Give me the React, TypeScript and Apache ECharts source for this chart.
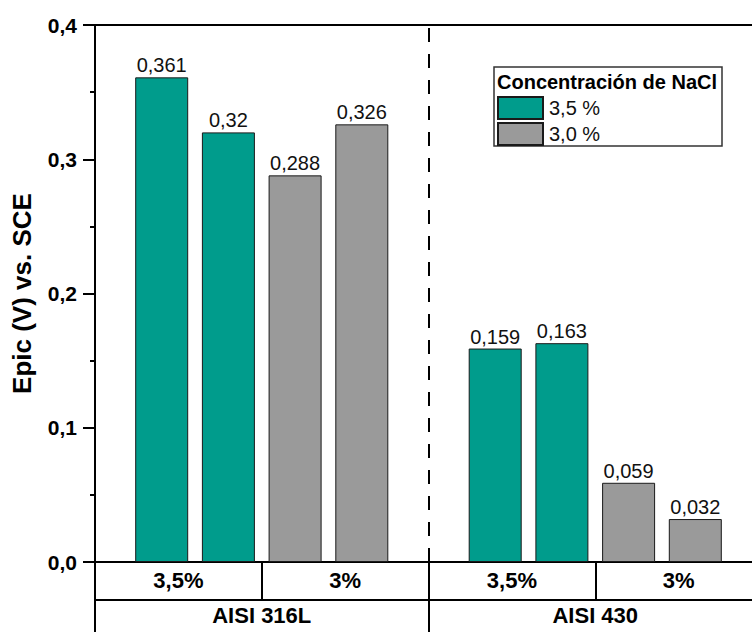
import React, { useEffect, useRef } from 'react';
import * as echarts from 'echarts';

// Slots along the x axis (outer ones are padding, "divisor" holds the dashed separator)
const slots = [
  'inicio',
  '316L 3,5% a', '316L 3,5% b', '316L 3% a', '316L 3% b',
  'divisor',
  '430 3,5% a', '430 3,5% b', '430 3% a', '430 3% b',
  'fin',
];
// Epic values (V vs. SCE) per slot
const conc35 = [null, 0.361, 0.32, null, null, null, 0.159, 0.163, null, null, null];
const conc30 = [null, null, null, 0.288, 0.326, null, null, null, 0.059, 0.032, null];
const concentrationLabels = ['3,5%', '3%', '3,5%', '3%'];
const alloyLabels = ['AISI 316L', 'AISI 430'];
const seriesNames = ['3,5 %', '3,0 %'];
const legendTitle = 'Concentración de NaCl';
const yName = 'Epic (V) vs. SCE';

const FONT = "'Liberation Sans', Arial, sans-serif";
const TEAL = '#009C8C';
const GRAY = '#9A9A9A';
const comma = (v: number) => String(v).replace('.', ',');

export default function App() {
  const ref = useRef<HTMLDivElement>(null);
  useEffect(() => {
    if (!ref.current) return;
    const chart = echarts.init(ref.current, undefined, { renderer: 'svg' });
    const barCommon = {
      type: 'bar' as const,
      barWidth: 53,
      barGap: '-100%',
      label: {
        show: true,
        position: 'top' as const,
        distance: 2,
        fontFamily: FONT,
        fontSize: 20,
        color: '#111',
        formatter: (p: any) => comma(p.value),
      },
    };
    chart.setOption({
      animation: false,
      backgroundColor: '#fff',
      grid: { left: 95, top: 25, right: 0, bottom: 70, containLabel: false },
      legend: {
        orient: 'vertical',
        left: 497,
        top: 96,
        padding: 0,
        itemWidth: 45,
        itemHeight: 22,
        itemGap: 2,
        icon: 'rect',
        data: seriesNames,
        textStyle: { fontFamily: FONT, fontSize: 20, color: '#111', padding: [0, 0, 0, 1] },
      },
      graphic: [
        {
          type: 'rect',
          shape: { x: 494, y: 67, width: 228, height: 79 },
          style: { fill: '#fff', stroke: '#333', lineWidth: 1.5 },
          z: 1,
        },
        {
          type: 'text',
          left: 497,
          top: 72,
          style: { text: legendTitle, fontFamily: FONT, fontSize: 20, fontWeight: 'bold', fill: '#000' },
          z: 5,
        },
      ],
      xAxis: [
        {
          type: 'category',
          data: slots,
          boundaryGap: false,
          position: 'bottom',
          axisLine: { show: true, lineStyle: { color: '#000', width: 2 } },
          axisTick: { show: false },
          axisLabel: { show: false },
          splitLine: { show: false },
        },
        {
          type: 'category',
          data: concentrationLabels,
          boundaryGap: true,
          position: 'bottom',
          axisLine: { show: false },
          axisTick: { show: true, length: 38, lineStyle: { color: '#000', width: 2 } },
          axisLabel: {
            show: true, margin: 7, fontFamily: FONT, fontSize: 22, fontWeight: 'bold', color: '#000',
          },
          splitLine: { show: false },
        },
        {
          type: 'category',
          data: alloyLabels,
          boundaryGap: true,
          position: 'bottom',
          offset: 38,
          axisLine: { show: true, lineStyle: { color: '#000', width: 2 } },
          axisTick: { show: true, length: 40, lineStyle: { color: '#000', width: 2 } },
          axisLabel: {
            show: true, margin: 4, fontFamily: FONT, fontSize: 22, fontWeight: 'bold', color: '#000',
          },
          splitLine: { show: false },
        },
        {
          type: 'category',
          data: slots,
          boundaryGap: false,
          position: 'top',
          axisLine: { show: true, lineStyle: { color: '#000', width: 2 } },
          axisTick: { show: false },
          axisLabel: { show: false },
          splitLine: { show: false },
        },
      ],
      yAxis: {
        type: 'value',
        min: 0,
        max: 0.4,
        interval: 0.1,
        name: yName,
        nameLocation: 'middle',
        nameGap: 60,
        nameTextStyle: { fontFamily: FONT, fontSize: 26, fontWeight: 'bold', color: '#000' },
        axisLine: { show: true, lineStyle: { color: '#000', width: 2 } },
        axisTick: { show: true, length: 12, lineStyle: { color: '#000', width: 2 } },
        minorTick: { show: true, splitNumber: 2, length: 5, lineStyle: { color: '#000', width: 2 } },
        splitLine: { show: false },
        axisLabel: {
          margin: 18,
          fontFamily: FONT,
          fontSize: 21,
          fontWeight: 'bold',
          color: '#000',
          formatter: (v: number) => v.toFixed(1).replace('.', ','),
        },
      },
      series: [
        {
          ...barCommon,
          name: seriesNames[0],
          data: conc35,
          itemStyle: { color: TEAL, borderColor: '#1a1a1a', borderWidth: 1 },
          markLine: {
            silent: true,
            symbol: 'none',
            label: { show: false },
            lineStyle: { color: '#000', width: 2, type: [14, 12] },
            data: [{ xAxis: 'divisor' }],
          },
        },
        {
          ...barCommon,
          name: seriesNames[1],
          data: conc30,
          itemStyle: { color: GRAY, borderColor: '#1a1a1a', borderWidth: 1 },
        },
      ],
    });
    return () => chart.dispose();
  }, []);
  return (
    <div style={{ position: 'fixed', left: 0, top: 0, width: 752, height: 632, overflow: 'hidden', background: '#fff' }}>
      <div ref={ref} style={{ width: 762, height: 632 }} />
    </div>
  );
}
